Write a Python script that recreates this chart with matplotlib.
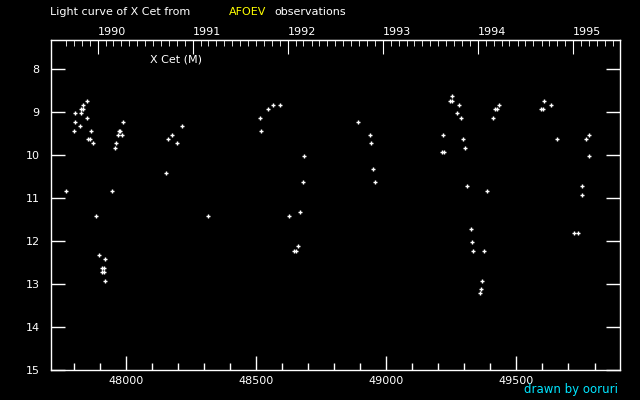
import matplotlib
matplotlib.use("Agg")
import matplotlib.pyplot as plt
import numpy as np

# Julian date - 2400000 et magnitude visuelle
jd = [47852, 47837, 47830, 47837, 47806, 47830, 47852, 47806, 47826, 47803,
      47868, 47856, 47864, 47876, 47991, 47975, 47979, 47972, 47987, 47964,
      47960, 47772, 47949, 47887, 47899, 47922, 47910, 47918, 47910, 47918,
      47922,
      48217, 48179, 48164, 48198, 48156, 48317,
      48567, 48594, 48548, 48517, 48521, 48686, 48682, 48670, 48628, 48663,
      48648, 48655,
      48893, 48939, 48943, 48951, 48958,
      49254, 49246, 49254, 49281, 49273, 49289, 49220, 49296, 49304, 49216,
      49223, 49312, 49389, 49327, 49331, 49335, 49377, 49369, 49366, 49362,
      49435, 49419, 49427, 49412,
      49607, 49596, 49604, 49634, 49657, 49780, 49769, 49753, 49753, 49780,
      49723, 49738]
mag = [8.74, 8.84, 8.93, 8.93, 9.02, 9.02, 9.14, 9.23, 9.33, 9.44,
       9.44, 9.63, 9.63, 9.72, 9.23, 9.44, 9.44, 9.53, 9.53, 9.72,
       9.84, 10.84, 10.84, 11.42, 12.33, 12.42, 12.63, 12.63, 12.72, 12.72,
       12.93,
       9.33, 9.53, 9.63, 9.72, 10.42, 11.42,
       8.84, 8.84, 8.93, 9.14, 9.44, 10.02, 10.63, 11.33, 11.42, 12.12,
       12.23, 12.23,
       9.23, 9.53, 9.72, 10.33, 10.63,
       8.63, 8.74, 8.74, 8.84, 9.02, 9.14, 9.53, 9.63, 9.84, 9.93,
       9.93, 10.72, 10.84, 11.72, 12.02, 12.23, 12.23, 12.93, 13.12, 13.21,
       8.84, 8.93, 8.93, 9.14,
       8.74, 8.93, 8.93, 8.84, 9.63, 9.53, 9.63, 10.72, 10.93, 10.02,
       11.81, 11.81]

years = [1990, 1991, 1992, 1993, 1994, 1995]
x_ticks = [48000, 48500, 49000, 49500]
y_ticks = [8, 9, 10, 11, 12, 13, 14, 15]


def to_jd(d):
    # date numpy -> JD - 2400000
    return (np.datetime64(d, 'D') - np.datetime64('1858-11-17', 'D')).astype(float) + 0.5


fig = plt.figure(figsize=(6.4, 4), dpi=100, facecolor='black')
ax = fig.add_axes([0.0792, 0.075, 0.89, 0.825], facecolor='black')

ax.plot(jd, mag, '+', color='white', markersize=3, markeredgewidth=1)

ax.set_xlim(47712, 49899)
ax.set_ylim(15, 7.32)

for s in ax.spines.values():
    s.set_color('white')
    s.set_linewidth(1)

ax.set_xticks(x_ticks)
ax.set_xticks(np.arange(47800, 49900, 100), minor=True)
ax.set_yticks(y_ticks)
ax.tick_params(axis='both', which='major', direction='in', length=10, color='white',
               labelcolor='white', labelsize=8, width=1)
ax.tick_params(axis='x', which='minor', direction='in', length=5, color='white', width=1)
ax.tick_params(axis='y', right=True, which='major', pad=8)
ax.tick_params(axis='x', pad=4)

# axe du haut : années et mois
top = ax.secondary_xaxis('top')
year_pos = [to_jd('%d-01-01' % y) for y in years]
top.set_xticks(year_pos)
top.set_xticklabels([str(y) for y in years], ha='left')
months = np.arange(np.datetime64('1989-09'), np.datetime64('1996-01'), np.timedelta64(1, 'M'))
top.set_xticks([to_jd(m) for m in months], minor=True)
top.tick_params(which='major', direction='in', length=10, color='white',
                labelcolor='white', labelsize=8, pad=2)
top.tick_params(which='minor', direction='in', length=4, color='white')
top.spines['top'].set_color('white')

fig.text(0.078, 0.97, "Light curve of X Cet from", color='white', fontsize=8, va='center')
fig.text(0.358, 0.97, "AFOEV", color='yellow', fontsize=8, va='center')
fig.text(0.428, 0.97, "observations", color='white', fontsize=8, va='center')
ax.text(0.175, 0.94, "X Cet (M)", color='white', fontsize=8, transform=ax.transAxes, va='center')
fig.text(0.965, 0.025, "drawn by ooruri", color='#00e5ff', fontsize=8.5, ha='right', va='center')

fig.savefig('out.png', dpi=100, facecolor='black')
